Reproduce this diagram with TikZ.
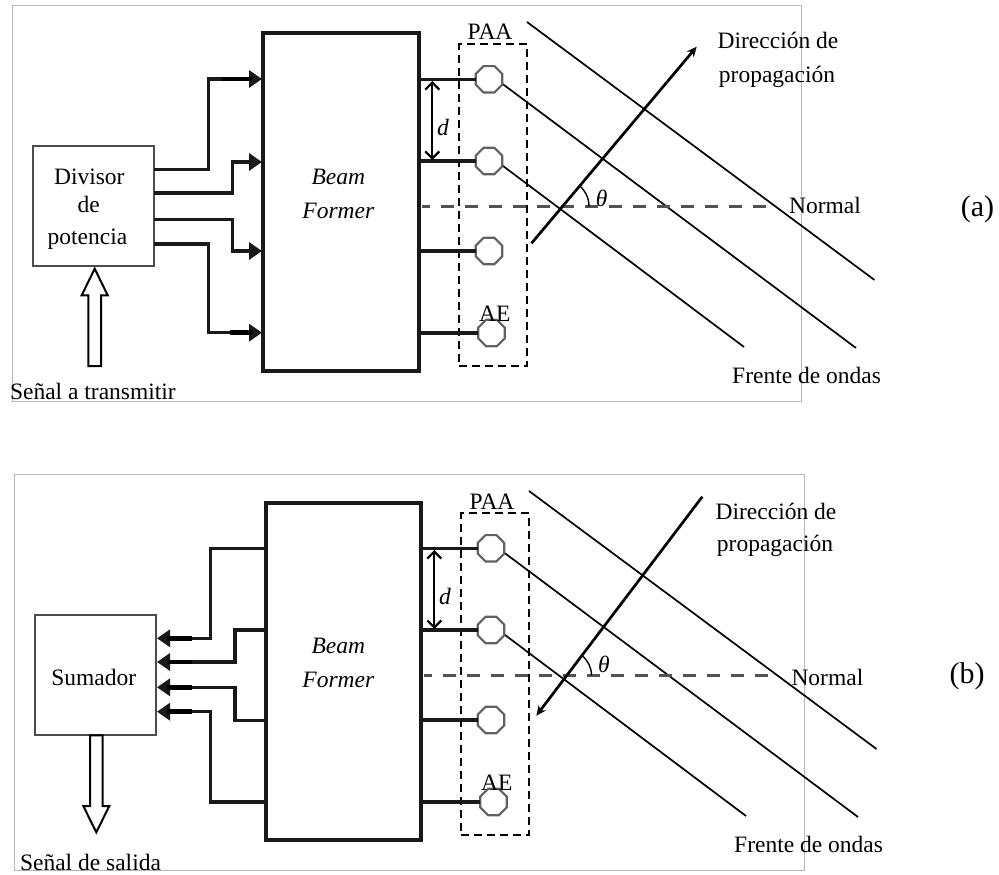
\documentclass[tikz,border=0pt]{standalone}
\usepackage{fontspec}
\setmainfont{Liberation Serif}
\usetikzlibrary{arrows.meta,shapes.geometric}
\tikzset{
  tx/.style={anchor=base,inner sep=0pt,outer sep=0pt,font=\fontsize{23.5}{28}\selectfont},
  itx/.style={tx,font=\fontsize{23.5}{28}\selectfont\itshape},
  bigtx/.style={anchor=base,inner sep=0pt,outer sep=0pt,font=\fontsize{30}{34}\selectfont},
  framebox/.style={draw=black!28,line width=1pt},
  beambox/.style={draw=black!90,line width=3.8pt,inner sep=0pt,outer sep=0pt,anchor=north west},
  sidebox/.style={draw=black!70,line width=2.2pt,inner sep=0pt,outer sep=0pt,anchor=north west},
  wire/.style={line width=3.3pt,black!90,line join=miter},
  stub/.style={line width=4.6pt,black},
  arrowwire/.style={wire,-{Triangle[length=13pt,width=17pt]}},
  element/.style={regular polygon,regular polygon sides=8,draw=black!62,line width=2.2pt,fill=white,
    minimum size=28.5pt,inner sep=0pt,outer sep=0pt},
  paabox/.style={draw=black,line width=2pt,dash pattern=on 8pt off 5pt},
  normalline/.style={draw=black!68,line width=2.7pt,dash pattern=on 13pt off 11pt,dash phase=5pt},
  wavefront/.style={draw=black,line width=1.7pt},
  dirline/.style={draw=black,line width=2.7pt},
  spacing/.style={draw=black,line width=2.2pt,{Straight Barb[length=7pt,width=14pt,line width=2.2pt]}-{Straight Barb[length=7pt,width=14pt,line width=2.2pt]}},
  anglearc/.style={draw=black,line width=1.4pt},
  hollow/.style={draw=black,line width=2pt,fill=white,line join=miter}
}
% the part to the right of the beam former, common to both panels
\newcommand{\rightpart}[2]{%
  \begin{scope}[shift={(2*#2,469*#2)},name prefix=#1-]
    \node[paabox,draw,inner sep=0pt,outer sep=0pt,anchor=north west,minimum width=68pt,minimum height=321.4pt] (paa) at (459.4,44.3) {};
    \coordinate (f1a) at (527,22);
    \coordinate (f1b) at (874.5,280);
    \coordinate (f2a) at (501.7,83.3);
    \coordinate (f2b) at (856,348);
    \coordinate (f3a) at (501.7,165);
    \coordinate (f3b) at (744,347);
    \draw[wavefront] (f1a) -- (f1b);
    \draw[wavefront] (f2a) -- (f2b);
    \draw[wavefront] (f3a) -- (f3b);
    \node[element] (e1) at (489,79.3) {};
    \node[element] (e2) at (489,161) {};
    \node[element] (e3) at (489,251) {};
    \node[element] (e4) at (491.5,333) {};
    \coordinate (w1) at (419,79.3);
    \coordinate (w2) at (419,161);
    \coordinate (w3) at (419,251);
    \coordinate (w4) at (419,333);
    \foreach \i in {1,2,3,4} {\draw[wire] (w\i) -- (e\i.west);}
    \coordinate (d1) at (432.3,81);
    \coordinate (d2) at (432.3,160);
    \draw[spacing] (d1) -- (d2);
    \node[itx] (dlab) at (443,135) {d};
    \coordinate (n1) at (422,206.3);
    \coordinate (n2) at (766,206.3);
    \draw[normalline] (n1) -- (n2);
    \node[tx] (paalab) at (490,40) {PAA};
    \node[tx] (aelab) at (494.7,321.7) {AE};
    \node[tx] (front) at (806.6,383.3) {Frente de ondas};
  \end{scope}%
}
\begin{document}
\begin{tikzpicture}[x=1pt,y=-1pt]
\useasboundingbox (0,0) rectangle (999,875);
% ---------- panel (a) ----------
\coordinate (a-fr1) at (12.7,5.3);
\coordinate (a-fr2) at (801,401);
\draw[framebox] (a-fr1) rectangle (a-fr2);
\node[beambox,minimum width=155.7pt,minimum height=337.7pt] (a-bf) at (263.3,33.3) {};
\node[sidebox,minimum width=120.7pt,minimum height=120pt] (a-dp) at (33.3,146) {};
\node[tx] (a-t1) at (89.3,184) {Divisor};
\node[tx] (a-t2) at (88.7,212) {de};
\node[tx] (a-t3) at (87.5,244) {potencia};
\node[itx] (a-b1) at (338.3,184.3) {Beam};
\node[itx] (a-b2) at (338.3,218) {Former};
\coordinate (a-o1) at (154,169.3);
\coordinate (a-o2) at (154,193);
\coordinate (a-o3) at (154,219.3);
\coordinate (a-o4) at (154,244);
\coordinate (a-i1) at (262,79);
\coordinate (a-i2) at (262,162);
\coordinate (a-i3) at (262,251);
\coordinate (a-i4) at (262,332.7);
\coordinate (a-v1) at (208.7,120);
\coordinate (a-v2) at (232.7,180);
\coordinate (a-v3) at (232.7,230);
\coordinate (a-v4) at (208.7,290);
\foreach \i in {1,2,3,4} {\draw[arrowwire] (a-o\i) -| (a-v\i) |- (a-i\i);}
\coordinate (a-st1) at (222,79);
\coordinate (a-st4) at (230,332.7);
\draw[stub] (a-st1) -- ++(30,0);
\draw[stub] (a-st4) -- ++(22,0);
\node[tx,anchor=base west] (a-s) at (10,399.3) {Señal a transmitir};
\coordinate (a-h0) at (94.7,268.7);
\draw[hollow] (a-h0) -- (107.7,295.3) -- (101,295.3) -- (101,366) -- (88.3,366) -- (88.3,295.3) -- (81.7,295.3) -- cycle;
\rightpart{a}{0}
\coordinate (a-dir1) at (531.5,243.3);
\coordinate (a-dir2) at (696.7,46.7);
\draw[dirline,-{Stealth[length=10pt,width=9pt]}] (a-dir1) -- (a-dir2);
\coordinate (a-ac) at (562,206.3);
\draw[anglearc] ([shift={(0:27)}]a-ac) arc[start angle=0,end angle=-50,radius=27];
\node[itx] (a-th) at (601.7,206) {θ};
\node[tx] (a-d1) at (778,48.3) {Dirección de};
\node[tx] (a-d2) at (777,82.3) {propagación};
\node[tx] (a-nm) at (825,213.3) {Normal};
\node[bigtx] (a-lab) at (977.5,216) {(a)};
% ---------- panel (b) ----------
\coordinate (b-fr1) at (14.3,474.3);
\coordinate (b-fr2) at (804,870);
\draw[framebox] (b-fr1) rectangle (b-fr2);
\node[beambox,minimum width=155.3pt,minimum height=337.3pt] (b-bf) at (265.7,502.7) {};
\node[sidebox,minimum width=121pt,minimum height=120.3pt] (b-sm) at (35,615) {};
\node[tx] (b-t1) at (93.7,685) {Sumador};
\node[itx] (b-b1) at (338.3,653.3) {Beam};
\node[itx] (b-b2) at (338.3,687.3) {Former};
\coordinate (b-o1) at (265,548.3);
\coordinate (b-o2) at (265,630);
\coordinate (b-o3) at (265,720.7);
\coordinate (b-o4) at (265,802);
\coordinate (b-i1) at (157,638.3);
\coordinate (b-i2) at (157,662);
\coordinate (b-i3) at (157,687.3);
\coordinate (b-i4) at (157,711.7);
\coordinate (b-v1) at (210.7,600);
\coordinate (b-v2) at (235,650);
\coordinate (b-v3) at (235,700);
\coordinate (b-v4) at (210.7,760);
\foreach \i in {1,2,3,4} {\draw[arrowwire] (b-o\i) -| (b-v\i) |- (b-i\i);}
\foreach \i in {1,2,3,4} {\draw[stub] (b-i\i) ++(10,0) -- ++(25,0);}
\node[tx,anchor=base west] (b-s) at (20,870.7) {Señal de salida};
\coordinate (b-h0) at (96.3,832.3);
\draw[hollow] (b-h0) -- (109.3,806) -- (102.7,806) -- (102.7,735.3) -- (90,735.3) -- (90,806) -- (83.3,806) -- cycle;
\rightpart{b}{1}
\coordinate (b-dir1) at (702.3,496.7);
\coordinate (b-dir2) at (536.3,715.7);
\draw[dirline,-{Stealth[length=10pt,width=9pt]}] (b-dir1) -- (b-dir2);
\coordinate (b-ac) at (566.5,675.3);
\draw[anglearc] ([shift={(0:25)}]b-ac) arc[start angle=0,end angle=-53,radius=25];
\node[itx] (b-th) at (604,672.5) {θ};
\node[tx] (b-d1) at (776,519.3) {Dirección de};
\node[tx] (b-d2) at (775,551) {propagación};
\node[tx] (b-nm) at (827.4,685) {Normal};
\node[bigtx] (b-lab) at (967,683.5) {(b)};
\end{tikzpicture}
\end{document}
